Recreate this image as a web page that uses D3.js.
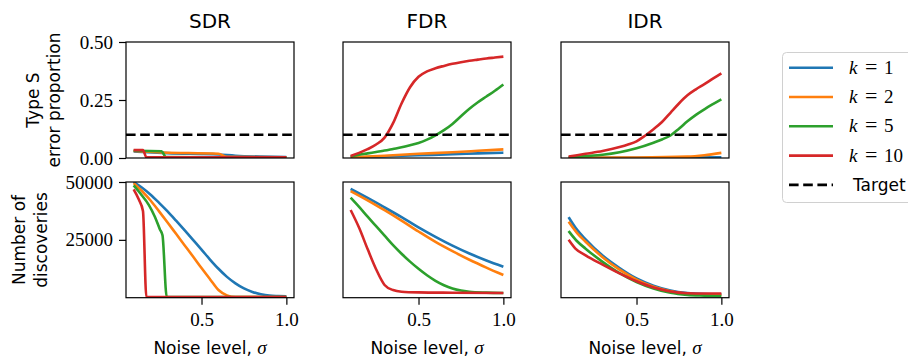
<!DOCTYPE html>
<html>
<head>
<meta charset="utf-8">
<script src="https://cdn.jsdelivr.net/npm/d3@7"></script>
<style>
  body { margin: 0; background: #fff; }
</style>
</head>
<body>
<div id="vis"></div>
<script>
// ----------------
// Data
// each series is a list of [sigma, value]
// ----------------
const methods = ["SDR", "FDR", "IDR"];
const kValues = [1, 2, 5, 10];
const colors = ["#1f77b4", "#ff7f0e", "#2ca02c", "#d62728"];
const target = 0.1;
const typeSTicks = [0, 0.25, 0.5];
const discTicks = [25000, 50000];
const sigmaTicks = [0.5, 1.0];

// Type S error proportion, one array per k
const sdrTypeS = [
    [[0.1,0.028],[0.3,0.021],[0.6,0.015],[0.7,0.01],[0.85,0.006],[1.0,0.004]],
    [[0.1,0.03],[0.27,0.024],[0.6,0.018],[0.65,0.005],[1.0,0.003]],
    [[0.1,0.031],[0.265,0.029],[0.29,0.004],[1.0,0.002]],
    [[0.1,0.034],[0.155,0.034],[0.175,0.003],[1.0,0.003]]
];
const fdrTypeS = [
    [[0.1,0.002],[0.3,0.007],[0.5,0.012],[0.7,0.016],[0.85,0.02],[1.0,0.023]],
    [[0.1,0.003],[0.3,0.01],[0.5,0.018],[0.7,0.025],[0.85,0.031],[1.0,0.037]],
    [[0.1,0.006],[0.15,0.014],[0.2,0.02],[0.25,0.026],[0.3,0.032],[0.35,0.039],[0.4,0.046],[0.45,0.055],[0.5,0.065],[0.55,0.079],[0.6,0.098],[0.65,0.12],[0.7,0.147],[0.75,0.18],[0.8,0.212],[0.85,0.24],[0.9,0.265],[0.95,0.29],[1.0,0.317]],
    [[0.1,0.009],[0.15,0.022],[0.2,0.038],[0.25,0.058],[0.3,0.088],[0.35,0.15],[0.4,0.235],[0.45,0.305],[0.5,0.35],[0.55,0.373],[0.6,0.387],[0.65,0.397],[0.7,0.406],[0.75,0.413],[0.8,0.419],[0.85,0.424],[0.9,0.429],[0.95,0.433],[1.0,0.437]]
];
const idrTypeS = [
    [[0.1,0.001],[0.5,0.001],[1.0,0.003]],
    [[0.1,0.001],[0.5,0.002],[0.8,0.006],[0.9,0.012],[1.0,0.022]],
    [[0.1,0.003],[0.2,0.008],[0.3,0.014],[0.4,0.025],[0.5,0.042],[0.6,0.066],[0.65,0.08],[0.7,0.097],[0.75,0.126],[0.8,0.158],[0.85,0.186],[0.9,0.21],[0.95,0.232],[1.0,0.253]],
    [[0.1,0.006],[0.2,0.018],[0.3,0.03],[0.4,0.047],[0.45,0.058],[0.5,0.072],[0.55,0.096],[0.6,0.124],[0.65,0.155],[0.7,0.195],[0.75,0.235],[0.8,0.27],[0.85,0.296],[0.9,0.318],[0.95,0.342],[1.0,0.365]]
];

// Number of discoveries, one array per k
const sdrDisc = [
    [[0.1,50000],[0.15,47500],[0.2,44500],[0.25,41000],[0.3,37300],[0.35,33300],[0.4,29200],[0.45,25000],[0.5,20800],[0.55,16500],[0.6,12500],[0.65,9000],[0.7,6200],[0.75,4000],[0.8,2500],[0.85,1500],[0.9,900],[0.95,700],[1.0,600]],
    [[0.1,49500],[0.15,46000],[0.2,42000],[0.25,37300],[0.3,32500],[0.35,27600],[0.4,22700],[0.45,17800],[0.5,12800],[0.55,8000],[0.6,3300],[0.65,1000],[0.7,300],[1.0,300]],
    [[0.1,48500],[0.14,45000],[0.19,40000],[0.225,35000],[0.255,29500],[0.27,27000],[0.295,300],[1.0,300]],
    [[0.1,46800],[0.13,42500],[0.155,37500],[0.175,300],[1.0,300]]
];
const fdrDisc = [
    [[0.1,47000],[0.2,43100],[0.3,39000],[0.4,34800],[0.5,30400],[0.6,26300],[0.7,22500],[0.8,19100],[0.9,16100],[1.0,13400]],
    [[0.1,46100],[0.2,42100],[0.3,37800],[0.4,33300],[0.5,28600],[0.6,24100],[0.7,20100],[0.8,16400],[0.9,13000],[1.0,9800]],
    [[0.1,43200],[0.15,39200],[0.2,35000],[0.25,30900],[0.3,26800],[0.35,22700],[0.4,19000],[0.45,15600],[0.5,12500],[0.55,9700],[0.6,7300],[0.65,5400],[0.7,4000],[0.75,3100],[0.8,2600],[0.9,2200],[1.0,2000]],
    [[0.1,37900],[0.15,30200],[0.2,21000],[0.25,12300],[0.3,5500],[0.35,3300],[0.4,2600],[0.5,2300],[0.7,2150],[1.0,2000]]
];
const idrDisc = [
    [[0.1,34800],[0.15,29300],[0.2,25200],[0.3,18200],[0.4,12800],[0.5,8300],[0.6,5200],[0.7,3100],[0.8,2000],[0.9,1600],[1.0,1500]],
    [[0.1,32800],[0.15,27900],[0.2,24200],[0.3,17500],[0.4,12100],[0.5,7800],[0.6,4700],[0.7,2800],[0.8,1700],[0.9,1300],[1.0,1150]],
    [[0.1,28800],[0.15,24400],[0.2,21200],[0.3,15500],[0.4,10600],[0.5,6800],[0.6,4000],[0.7,2100],[0.8,1200],[0.9,900],[1.0,700]],
    [[0.1,25000],[0.14,21200],[0.2,18300],[0.3,14300],[0.4,10500],[0.5,7100],[0.6,4400],[0.7,2700],[0.8,1950],[0.9,1800],[1.0,1800]]
];

const typeSData = [sdrTypeS, fdrTypeS, idrTypeS];
const discData = [sdrDisc, fdrDisc, idrDisc];


function drawChart() {

    // ----------------
    // 1. Dimensions
    // ----------------
    const dimensions = {
        width: 908,
        height: 360,
        panelWidth: 168,
        panelLefts: [126, 343, 561],
        rows: [{top: 42, bottom: 158}, {top: 182, bottom: 297.7}],
        lineWidth: 2.6
    };

    const sansFont = "'DejaVu Sans', sans-serif";
    const serifFont = "'Liberation Serif', 'DejaVu Serif', serif";

    const svg = d3.select("#vis")
        .append("svg")
        .attr("width", dimensions.width)
        .attr("height", dimensions.height);

    // ----------------
    // 2. Scales
    // ----------------
    const yTypeS = d3.scaleLinear()
        .domain([0, 0.5])
        .range([dimensions.rows[0].bottom, dimensions.rows[0].top]);

    const yDisc = d3.scaleLinear()
        .domain([0, 50000])
        .range([dimensions.rows[1].bottom, dimensions.rows[1].top]);

    const rowScales = [yTypeS, yDisc];
    const rowData = [typeSData, discData];

    // ----------------
    // 3. Panels
    // ----------------
    methods.forEach((method, col) => {
        const left = dimensions.panelLefts[col];
        const xScale = d3.scaleLinear()
            .domain([0.055, 1.045])
            .range([left, left + dimensions.panelWidth]);

        // title
        svg.append("text")
            .attr("x", left + dimensions.panelWidth / 2)
            .attr("y", 28)
            .attr("text-anchor", "middle")
            .attr("font-family", sansFont)
            .attr("font-size", 20)
            .text(method);

        rowScales.forEach((yScale, row) => {
            const top = dimensions.rows[row].top;
            const bottom = dimensions.rows[row].bottom;
            const clipId = `clip-${col}-${row}`;

            svg.append("clipPath")
                .attr("id", clipId)
                .append("rect")
                .attr("x", left)
                .attr("y", top)
                .attr("width", dimensions.panelWidth)
                .attr("height", bottom - top);

            const g = svg.append("g").attr("clip-path", `url(#${clipId})`);

            const line = d3.line()
                .x(d => xScale(d[0]))
                .y(d => yScale(d[1]))
                .curve(d3.curveMonotoneX);

            g.selectAll("path.series")
                .data(rowData[row][col])
                .join("path")
                .attr("class", "series")
                .attr("d", line)
                .attr("fill", "none")
                .attr("stroke", (d, i) => colors[i])
                .attr("stroke-width", dimensions.lineWidth)
                .attr("stroke-linejoin", "round");

            // target line on the error panels
            if (row === 0) {
                g.append("line")
                    .attr("x1", left)
                    .attr("x2", left + dimensions.panelWidth)
                    .attr("y1", yScale(target))
                    .attr("y2", yScale(target))
                    .attr("stroke", "#000")
                    .attr("stroke-width", dimensions.lineWidth)
                    .attr("stroke-dasharray", "9.6,4.6");
            }

            // frame
            svg.append("rect")
                .attr("x", left)
                .attr("y", top)
                .attr("width", dimensions.panelWidth)
                .attr("height", bottom - top)
                .attr("fill", "none")
                .attr("stroke", "#000")
                .attr("stroke-width", 1.2);

            // y axis only on first column
            if (col === 0) {
                const yAxis = d3.axisLeft(yScale)
                    .tickValues(row === 0 ? typeSTicks : discTicks)
                    .tickFormat(row === 0 ? d3.format(".2f") : d3.format("d"))
                    .tickSize(7)
                    .tickPadding(6);
                const ag = svg.append("g")
                    .attr("transform", `translate(${left},0)`)
                    .call(yAxis);
                styleAxis(ag);
            }

            // x axis only on bottom row
            if (row === 1) {
                const xAxis = d3.axisBottom(xScale)
                    .tickValues(sigmaTicks)
                    .tickFormat(d3.format(".1f"))
                    .tickSize(7)
                    .tickPadding(8);
                const ag = svg.append("g")
                    .attr("transform", `translate(0,${bottom})`)
                    .call(xAxis);
                styleAxis(ag);

                const lab = svg.append("text")
                    .attr("x", left + dimensions.panelWidth / 2)
                    .attr("y", 354)
                    .attr("text-anchor", "middle")
                    .attr("font-family", sansFont)
                    .attr("font-size", 17);
                lab.append("tspan").text("Noise level, ");
                lab.append("tspan")
                    .attr("font-family", serifFont)
                    .attr("font-style", "italic")
                    .attr("font-size", 19)
                    .text("σ");
            }
        });
    });

    function styleAxis(ag) {
        ag.select(".domain").remove();
        ag.selectAll(".tick line").attr("stroke", "#000").attr("stroke-width", 1.2);
        ag.selectAll(".tick text")
            .attr("font-family", serifFont)
            .attr("font-size", 19)
            .attr("fill", "#000");
    }

    // ----------------
    // 4. Row labels
    // ----------------
    const rowLabels = [
        {lines: ["Type S", "error proportion"], xs: [39, 60], cy: 100},
        {lines: ["Number of", "discoveries"], xs: [25, 46.5], cy: 240}
    ];
    rowLabels.forEach(lbl => {
        lbl.lines.forEach((t, i) => {
            svg.append("text")
                .attr("transform", `translate(${lbl.xs[i]},${lbl.cy}) rotate(-90)`)
                .attr("text-anchor", "middle")
                .attr("font-family", sansFont)
                .attr("font-size", 17)
                .text(t);
        });
    });

    // ----------------
    // 5. Legend
    // ----------------
    const legend = svg.append("g");
    legend.append("rect")
        .attr("x", 782.5)
        .attr("y", 52.5)
        .attr("width", 160)
        .attr("height", 150)
        .attr("rx", 4)
        .attr("fill", "#fff")
        .attr("stroke", "#d0d0d0")
        .attr("stroke-width", 1);

    const legendItems = kValues.map((k, i) => ({k: k, color: colors[i], dash: null}))
        .concat([{k: null, color: "#000", dash: "9.6,4.6"}]);

    legendItems.forEach((item, i) => {
        const y = 67.7 + i * 29.3;
        legend.append("line")
            .attr("x1", 789)
            .attr("x2", 833)
            .attr("y1", y)
            .attr("y2", y)
            .attr("stroke", item.color)
            .attr("stroke-width", dimensions.lineWidth)
            .attr("stroke-dasharray", item.dash);
        const t = legend.append("text")
            .attr("y", y + 6);
        if (item.k !== null) {
            // math-style spacing: k = n
            t.attr("font-family", serifFont).attr("font-size", 19);
            t.append("tspan").attr("x", 849).attr("font-style", "italic").text("k");
            t.append("tspan").attr("x", 865).attr("font-size", 22).text("=");
            t.append("tspan").attr("x", 884).text(item.k);
        } else {
            t.attr("x", 853).attr("font-family", sansFont).attr("font-size", 17).text("Target");
        }
    });
}

drawChart();
</script>
</body>
</html>
